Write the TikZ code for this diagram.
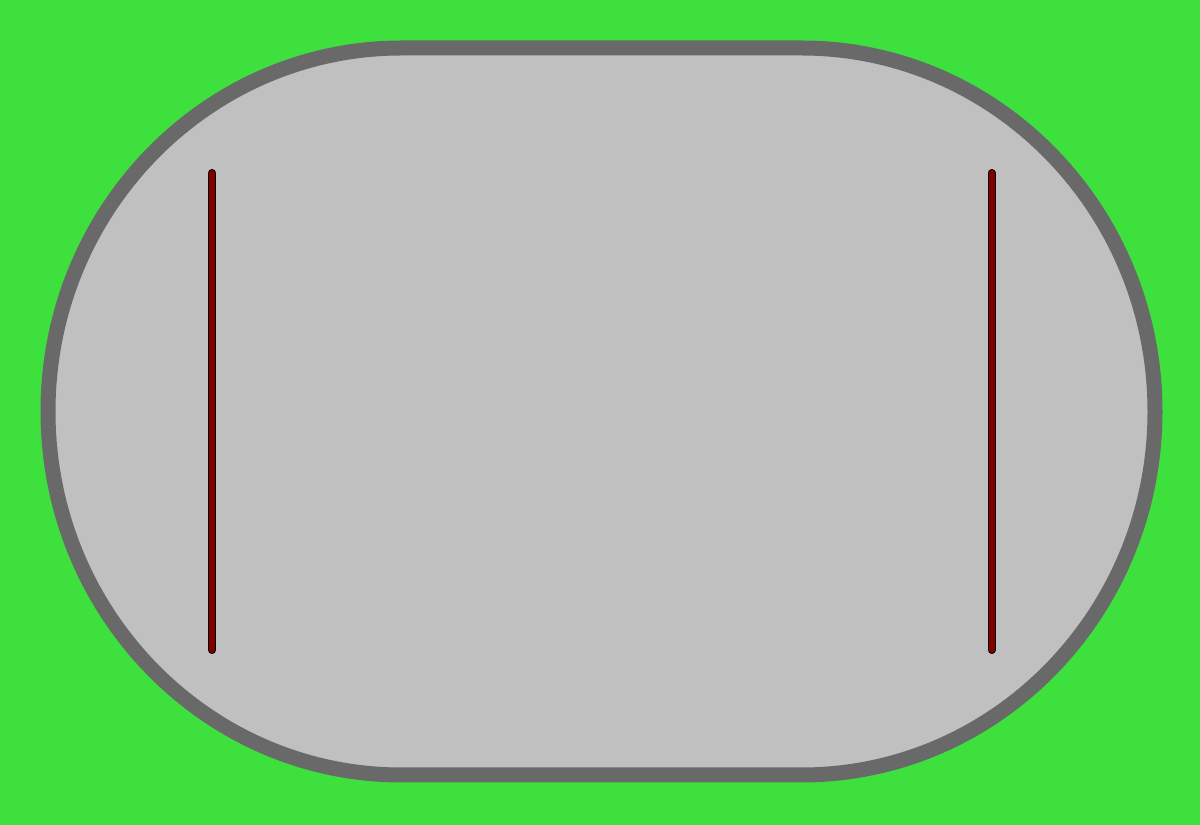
\documentclass[tikz,border=0pt]{standalone}
\definecolor{grass}{RGB}{62,224,62}
\definecolor{rim}{RGB}{105,105,105}
\definecolor{floor}{RGB}{192,192,192}
\definecolor{barred}{RGB}{128,0,0}
\begin{document}
\begin{tikzpicture}[x=1pt,y=1pt,
  trackrim/.style={draw=rim,fill=floor,line width=15pt},
  barout/.style={draw=black,line width=8pt,line cap=round},
  barin/.style={draw=barred,line width=6pt,line cap=round}]
\fill[grass] (0,0) rectangle (1200,825);
\useasboundingbox (0,0) rectangle (1200,825);
\path[trackrim] (401.5,777) -- (801.5,777)
  arc[start angle=90,end angle=-90,x radius=353.5,y radius=363.5]
  -- (401.5,50)
  arc[start angle=270,end angle=90,x radius=353.5,y radius=363.5] -- cycle;
\coordinate (lt) at (212,652);
\coordinate (lb) at (212,175);
\coordinate (rt) at (991.5,652);
\coordinate (rb) at (991.5,175);
\draw[barout] (lt) -- (lb);
\draw[barin] (lt) -- (lb);
\draw[barout] (rt) -- (rb);
\draw[barin] (rt) -- (rb);
\end{tikzpicture}
\end{document}
